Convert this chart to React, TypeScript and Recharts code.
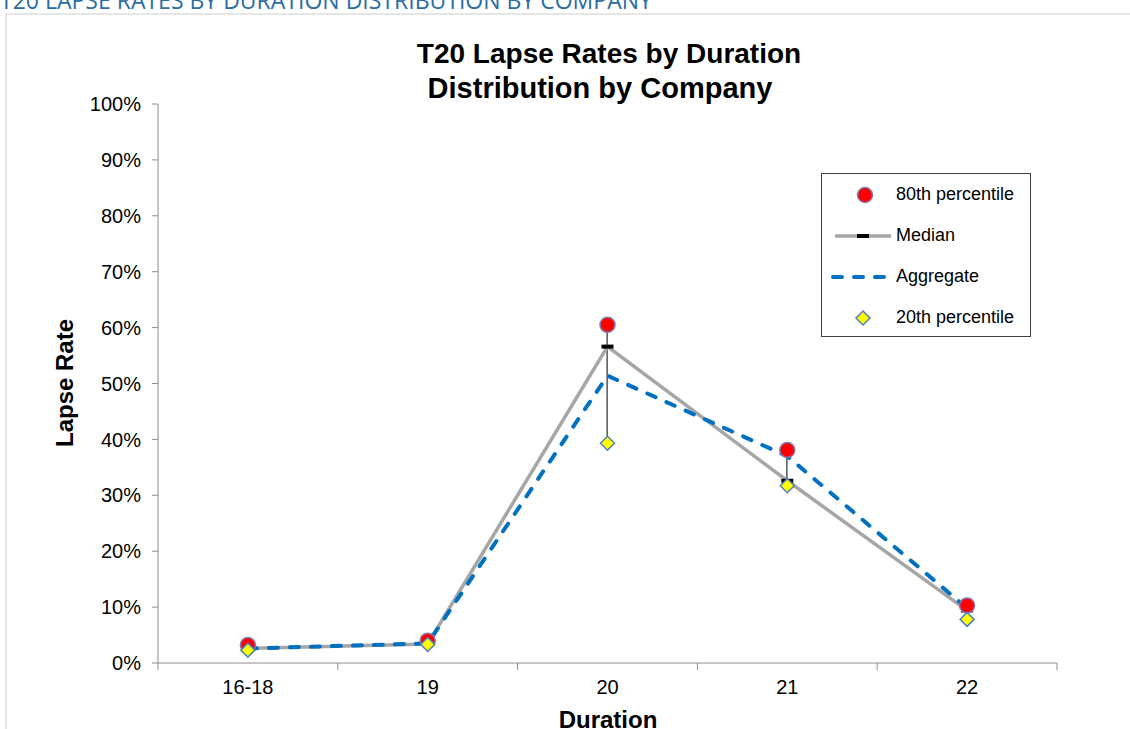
import { Bar, ComposedChart, Line, XAxis, YAxis } from "recharts"

const durations = ["16-18", "19", "20", "21", "22"]
const pct80 = [3.2, 4.0, 60.5, 38.1, 10.3]
const median = [2.6, 3.4, 56.6, 32.6, 9.4]
const aggregate = [2.6, 3.5, 51.4, 37.0, 9.8]
const pct20 = [2.3, 3.3, 39.3, 31.7, 7.8]
const yTicks = [0, 10, 20, 30, 40, 50, 60, 70, 80, 90, 100]

const data = durations.map((d, i) => ({
  duration: d,
  p80: pct80[i],
  median: median[i],
  aggregate: aggregate[i],
  p20: pct20[i],
  range: [pct20[i], pct80[i]],
}))

const FONT = "'Liberation Sans', Arial, sans-serif"
const AXIS_GREY = "#8c8c8c"
const X_TICK_SIZE = 7
const X_TICK_MARGIN = 10

const RedDot = (props: any) => {
  const { cx, cy } = props
  if (cx == null || cy == null) return null
  return <circle cx={cx} cy={cy} r={7.5} fill="#ff0000" stroke="#8577ad" strokeWidth={1.5} />
}

const YellowDiamond = (props: any) => {
  const { cx, cy } = props
  if (cx == null || cy == null) return null
  const s = 7
  return (
    <polygon
      points={`${cx},${cy - s} ${cx + s},${cy} ${cx},${cy + s} ${cx - s},${cy}`}
      fill="#ffff00"
      stroke="#4f81bd"
      strokeWidth={1.5}
    />
  )
}

const MedianDash = (props: any) => {
  const { cx, cy } = props
  if (cx == null || cy == null) return null
  return <rect x={cx - 6} y={cy - 2} width={12} height={4} fill="#000" />
}

// category label in the band centre, tick marks on the band edges (Excel style)
const DurationTick = (props: any) => {
  const { x, y, payload, index, visibleTicksCount } = props
  const half = payload.offset || 0
  const top = y - X_TICK_SIZE - X_TICK_MARGIN
  return (
    <g>
      <line x1={x - half} x2={x - half} y1={top} y2={top + X_TICK_SIZE} stroke={AXIS_GREY} />
      {index === visibleTicksCount - 1 && (
        <line x1={x + half} x2={x + half} y1={top} y2={top + X_TICK_SIZE} stroke={AXIS_GREY} />
      )}
      <text x={x} y={y} dy="0.71em" textAnchor="middle" fontSize={20} fontFamily={FONT} fill="#000">
        {payload.value}
      </text>
    </g>
  )
}

const legendRows = [
  { label: "80th percentile", kind: "p80" },
  { label: "Median", kind: "median" },
  { label: "Aggregate", kind: "aggregate" },
  { label: "20th percentile", kind: "p20" },
]

function LegendIcon({ kind }: { kind: string }) {
  return (
    <svg width={60} height={20} style={{ display: "block" }}>
      {kind === "p80" && <RedDot cx={34} cy={10} />}
      {kind === "median" && (
        <>
          <line x1={4} x2={60} y1={10} y2={10} stroke="#a6a6a6" strokeWidth={3.5} />
          <MedianDash cx={32} cy={10} />
        </>
      )}
      {kind === "aggregate" && (
        <line x1={2} x2={58} y1={10} y2={10} stroke="#0070c0" strokeWidth={4} strokeDasharray="9 12" strokeLinecap="round" />
      )}
      {kind === "p20" && <YellowDiamond cx={32} cy={10} />}
    </svg>
  )
}

export default function App() {
  return (
    <div style={{ position: "absolute", left: 0, top: 0, width: 1130, height: 729, overflow: "hidden", background: "#fff" }}>
      <div
        style={{
          position: "absolute",
          left: 0,
          top: -16,
          fontFamily: "'Open Sans', sans-serif",
          fontSize: 23,
          color: "#2b6ca3",
          whiteSpace: "nowrap",
        }}
      >
        T20 LAPSE RATES BY DURATION DISTRIBUTION BY COMPANY
      </div>
      <div style={{ position: "absolute", left: 5, top: 13, width: 1200, height: 800, border: "2px solid #e6e6e6" }} />

      <div style={{ position: "absolute", left: 0, top: 0 }}>
        <ComposedChart width={1130} height={729} data={data} margin={{ top: 104, right: 73, bottom: 26, left: 88 }}>
          <XAxis
            dataKey="duration"
            height={40}
            stroke={AXIS_GREY}
            tickLine={false}
            tickSize={X_TICK_SIZE}
            tickMargin={X_TICK_MARGIN}
            tick={<DurationTick />}
          />
          <YAxis
            width={70}
            domain={[0, 100]}
            ticks={yTicks}
            tickFormatter={(v: number) => `${v}%`}
            stroke={AXIS_GREY}
            tickSize={6}
            tickMargin={11}
            tick={{ fill: "#000", fontSize: 20, fontFamily: FONT }}
          />
          <Bar dataKey="range" barSize={1} fill="#000" isAnimationActive={false} />
          <Line
            dataKey="median"
            stroke="#a6a6a6"
            strokeWidth={3.5}
            dot={<MedianDash />}
            activeDot={false}
            isAnimationActive={false}
          />
          <Line
            dataKey="aggregate"
            stroke="#0070c0"
            strokeWidth={4}
            strokeDasharray="9 12"
            strokeLinecap="round"
            dot={false}
            activeDot={false}
            isAnimationActive={false}
          />
          <Line dataKey="p80" stroke="none" dot={<RedDot />} activeDot={false} isAnimationActive={false} />
          <Line dataKey="p20" stroke="none" dot={<YellowDiamond />} activeDot={false} isAnimationActive={false} />
        </ComposedChart>
      </div>

      <div
        style={{
          position: "absolute",
          left: 159,
          top: 36,
          width: 900,
          textAlign: "center",
          fontFamily: FONT,
          fontWeight: "bold",
          fontSize: 28,
          lineHeight: "35px",
        }}
      >
        T20 Lapse Rates by Duration
      </div>
      <div
        style={{
          position: "absolute",
          left: 150,
          top: 71,
          width: 900,
          textAlign: "center",
          fontFamily: FONT,
          fontWeight: "bold",
          fontSize: 29,
          lineHeight: "35px",
        }}
      >
        Distribution by Company
      </div>

      <div
        style={{
          position: "absolute",
          left: 65,
          top: 383,
          transform: "translate(-50%, -50%) rotate(-90deg)",
          fontFamily: FONT,
          fontWeight: "bold",
          fontSize: 24,
          whiteSpace: "nowrap",
        }}
      >
        Lapse Rate
      </div>
      <div
        style={{
          position: "absolute",
          left: 158,
          top: 705,
          width: 900,
          textAlign: "center",
          fontFamily: FONT,
          fontWeight: "bold",
          fontSize: 24,
          lineHeight: "30px",
        }}
      >
        Duration
      </div>

      <div
        style={{
          position: "absolute",
          left: 821,
          top: 173,
          width: 210,
          height: 164,
          boxSizing: "border-box",
          border: "1px solid #404040",
          background: "#fff",
          paddingTop: 0,
        }}
      >
        {legendRows.map((r) => (
          <div key={r.kind} style={{ display: "flex", alignItems: "center", height: 41, marginLeft: 9 }}>
            <LegendIcon kind={r.kind} />
            <span style={{ fontFamily: FONT, fontSize: 18, marginLeft: 5 }}>{r.label}</span>
          </div>
        ))}
      </div>
    </div>
  )
}
